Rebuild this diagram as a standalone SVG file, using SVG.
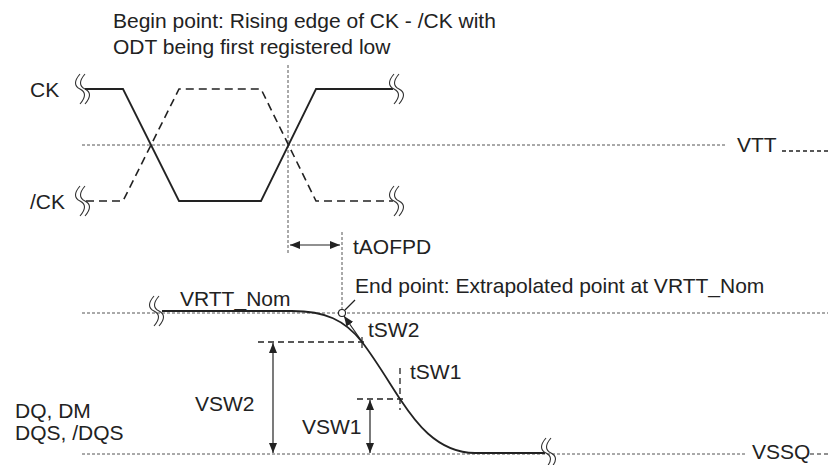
<svg xmlns="http://www.w3.org/2000/svg" width="828" height="465" viewBox="0 0 828 465">
<style>
text{font-family:"Liberation Sans",Arial,sans-serif;font-size:21px;fill:#222}
.sig{fill:none;stroke:#222;stroke-width:1.8}
.sigd{fill:none;stroke:#222;stroke-width:1.6;stroke-dasharray:8 5}
.ref{fill:none;stroke:#555;stroke-width:1;stroke-dasharray:3 2}
.dash{fill:none;stroke:#222;stroke-width:1.3;stroke-dasharray:6 4}
.brk{fill:none;stroke:#333;stroke-width:1.1}
.thin{fill:none;stroke:#222;stroke-width:1.2}
</style>
<defs>
<marker id="ah" viewBox="0 0 10 8" refX="10" refY="4" markerWidth="10" markerHeight="8" markerUnits="userSpaceOnUse" orient="auto-start-reverse">
<path d="M0,0 L10,4 L0,8 Z" fill="#222"/>
</marker>
<path id="bk" d="M0,-15 C-6,-8 -6,-3 0,0 C6,3 6,8 0,15 M5,-15 C-1,-8 -1,-3 5,0 C11,3 11,8 5,15"/>
</defs>

<g id="reference-lines">
<path class="ref" d="M82,145 H727"/>
<path class="ref" d="M82,313 H828"/>
<path class="ref" d="M82,454 H747"/>
<path class="ref" d="M288,65 V255"/>
<path class="ref" d="M342,232 V309"/>
<path d="M782,151 H828" fill="none" stroke="#222" stroke-width="1.3" stroke-dasharray="4 3"/>
<path d="M810,454 H828" fill="none" stroke="#222" stroke-width="1.2" stroke-dasharray="4 3"/>
</g>

<g id="title">
<text x="113" y="28">Begin point: Rising edge of CK - /CK with</text>
<text x="113" y="54">ODT being first registered low</text>
</g>

<g id="ck">
<text x="30" y="97">CK</text>
<use href="#bk" class="brk" x="80" y="89"/>
<path class="sig" d="M85,89 H123 L179,201 H261 L316,89 H393"/>
<use href="#bk" class="brk" x="394" y="89"/>
</g>

<g id="ckb">
<text x="30" y="209">/CK</text>
<use href="#bk" class="brk" x="80" y="201"/>
<path class="sigd" d="M86,201 H123 L179,89 H261 L316,201 H393"/>
<use href="#bk" class="brk" x="394" y="201"/>
</g>

<g id="vtt-label"><text x="737" y="152">VTT</text></g>

<g id="dq">
<text x="15" y="418">DQ, DM</text>
<text x="15" y="440">DQS, /DQS</text>
<use href="#bk" class="brk" x="154" y="311"/>
<path class="sig" d="M162,311 H292 C325,311 345,320 362,342 C375.6,359.6 390,384 400,399 C412,417 435,453 475,453 H545"/>
<use href="#bk" class="brk" x="546" y="453"/>
<text x="180" y="306">VRTT_Nom</text>
<text x="752" y="459">VSSQ</text>
</g>

<g id="connectors">
<path class="thin" d="M290,245 H340" marker-start="url(#ah)" marker-end="url(#ah)"/>
<path class="thin" d="M273,343 V453" marker-start="url(#ah)" marker-end="url(#ah)"/>
<path class="thin" d="M370,400 V453" marker-start="url(#ah)" marker-end="url(#ah)"/>
<path class="dash" d="M258,342 H366"/>
<path class="dash" d="M357,399 H406"/>
<path class="dash" d="M400,368 V410"/>
<path class="thin" d="M362,337 V348"/>
<path class="thin" d="M363,343 L344,316" marker-end="url(#ah)"/>
<path class="thin" d="M345,310 L355,300"/>
<circle cx="342" cy="313" r="3.5" fill="#fff" stroke="#222" stroke-width="1.1"/>
</g>

<g id="labels">
<text x="353" y="254">tAOFPD</text>
<text x="355" y="293">End point: Extrapolated point at VRTT_Nom</text>
<text x="368" y="337">tSW2</text>
<text x="410" y="379">tSW1</text>
<text x="195" y="411">VSW2</text>
<text x="302" y="434">VSW1</text>
</g>
</svg>
